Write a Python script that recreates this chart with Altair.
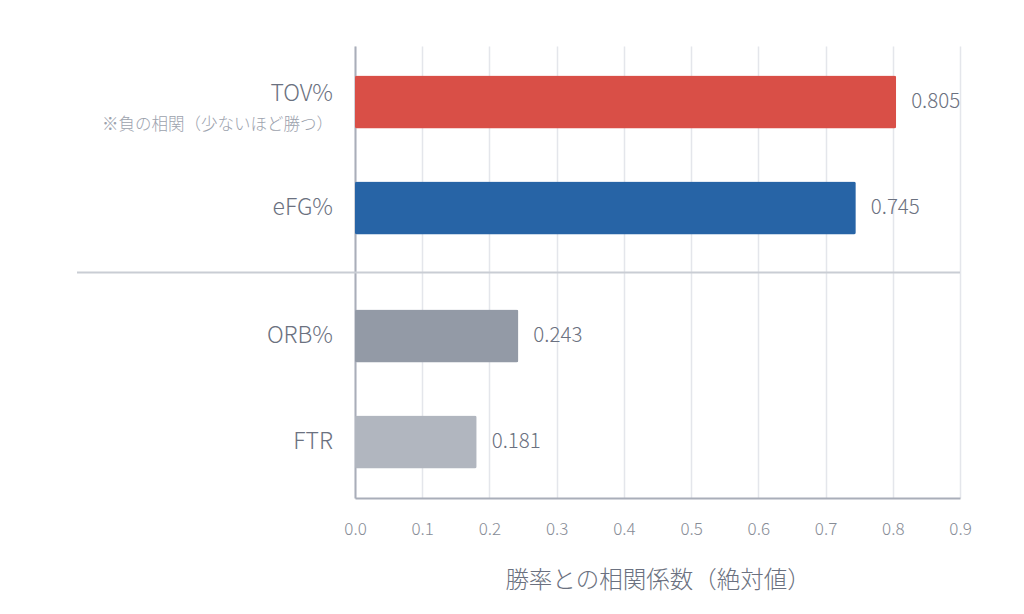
import altair as alt
import pandas as pd

metrics = ["TOV%", "eFG%", "ORB%", "FTR"]
values = [0.805, 0.745, 0.243, 0.181]
groups = ["A", "A", "B", "B"]
colors = ["#d94f47", "#2764a6", "#939aa6", "#b1b6bf"]
x_ticks = [0.0, 0.1, 0.2, 0.3, 0.4, 0.5, 0.6, 0.7, 0.8, 0.9]
note = "※負の相関（少ないほど勝つ）"
x_title = "勝率との相関係数（絶対値）"

df = pd.DataFrame({"metric": metrics, "value": values, "grp": groups})

FONT = "Noto Sans CJK JP"
LABEL = "#6b7180"

base = alt.Chart(df).transform_window(slot="row_number()", groupby=["grp"])

y_enc = alt.Y("grp:N", scale=alt.Scale(paddingInner=0.3205, paddingOuter=0.126),
              axis=alt.Axis(labels=False, ticks=False, title=None,
                            domainColor="#a9aeb9", domainWidth=2, grid=False))
yoff = alt.YOffset("slot:O", scale=alt.Scale(paddingInner=0.5, paddingOuter=0))

bars = base.mark_bar(cornerRadius=2).encode(
    x=alt.X("value:Q",
            scale=alt.Scale(domain=[0, 0.9], nice=False),
            axis=alt.Axis(values=x_ticks, format=".1f", title=x_title,
                          grid=True, gridColor="#e4e6eb", gridWidth=1.5,
                          domainColor="#a9aeb9", domainWidth=2,
                          ticks=False, labelPadding=23, labelFlush=False,
                          labelFont=FONT, labelFontSize=17, labelColor="#878c96",
                          labelFontWeight=300,
                          titleFont=FONT, titleFontSize=23.5, titleColor=LABEL,
                          titleFontWeight=300, titlePadding=31)),
    y=y_enc,
    yOffset=yoff,
    color=alt.Color("metric:N", scale=alt.Scale(domain=metrics, range=colors), legend=None),
)

vals = base.mark_text(align="left", baseline="middle", dx=15, font=FONT,
                      fontSize=20.5, fontWeight=300, color=LABEL).encode(
    x="value:Q", y="grp:N", yOffset=yoff,
    text=alt.Text("value:Q", format=".3f"),
)

lab_main = base.transform_filter(alt.datum.metric == metrics[0]).mark_text(
    align="right", baseline="middle", dx=-22, dy=-8, font=FONT, fontSize=23,
    fontWeight=300, color=LABEL).encode(
    x=alt.value(0), y="grp:N", yOffset=yoff, text="metric:N")

lab_rest = base.transform_filter(alt.datum.metric != metrics[0]).mark_text(
    align="right", baseline="middle", dx=-22, font=FONT, fontSize=23,
    fontWeight=300, color=LABEL).encode(
    x=alt.value(0), y="grp:N", yOffset=yoff, text="metric:N")

lab_note = base.transform_filter(alt.datum.metric == metrics[0]).mark_text(
    align="right", baseline="middle", dx=-22, dy=23, font=FONT, fontSize=16.5,
    fontWeight=300, color="#9ca2ad").encode(
    x=alt.value(0), y="grp:N", yOffset=yoff, text=alt.value(note))

sep = base.transform_filter(alt.datum.metric == metrics[0]).mark_rule(
    color="#c9cdd4", strokeWidth=2, yOffset=38).encode(
    y=alt.Y("grp:N", bandPosition=1),
    x=alt.value(-278), x2=alt.value(605))

chart = alt.layer(bars, sep, vals, lab_main, lab_rest, lab_note).properties(
    width=605, height=452,
    autosize=alt.AutoSizeParams(type="none"),
    padding={"left": 347, "top": 38, "right": 50, "bottom": 100},
).configure_view(stroke=None)

chart.save("out.html", embed_options={"renderer": "svg", "actions": False})
